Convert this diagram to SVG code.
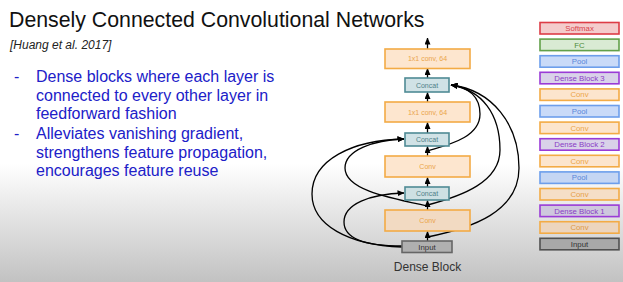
<svg xmlns="http://www.w3.org/2000/svg" width="623" height="282" viewBox="0 0 623 282">
<defs>
<linearGradient id="bg" x1="0" y1="0" x2="0" y2="1">
<stop offset="0" stop-color="#ffffff"/>
<stop offset="0.58" stop-color="#ffffff"/>
<stop offset="1" stop-color="#c2c2c2"/>
</linearGradient>
<marker id="ah" markerWidth="7" markerHeight="6" refX="6.5" refY="3" orient="auto" markerUnits="userSpaceOnUse">
<path d="M0,0 L7,3 L0,6 Z" fill="#000"/>
</marker>
<style>
.t{font-family:"Liberation Sans",Arial,sans-serif}
.b{font-family:"Liberation Sans",Arial,sans-serif;font-size:16px;fill:#2020c8}
.bx{stroke-width:1.6}
.or{fill:#fde6cf;stroke:#f3ab45}
.ort{fill:#eba54a;font-size:7px;text-anchor:middle}
.cc{fill:#d0e2e6;stroke:#4f8b95}
.cct{fill:#4f7f88;font-size:7px;text-anchor:middle}
.in{fill:#b0b0b0;stroke:#666}
.int{fill:#333;font-size:7.8px;text-anchor:middle}
.lt{font-size:7.8px;text-anchor:middle}
.sm{fill:#f4cccc;stroke:#dd3c46}
.fc{fill:#d9ead3;stroke:#62a04a}
.pl{fill:#c9daf8;stroke:#6d9eeb}
.db{fill:#d9d2e9;stroke:#9a3bd6}
.cv{fill:#fce5cd;stroke:#f3ab45}
.ar{fill:none;stroke:#000;stroke-width:1.3;marker-end:url(#ah)}
</style>
</defs>
<rect x="0" y="0" width="623" height="282" fill="url(#bg)"/>

<g id="title">
<text class="t" x="9" y="27" font-size="21.3" fill="#111">Densely Connected Convolutional Networks</text>
<text class="t" x="10" y="49" font-size="12" font-style="italic" fill="#222">[Huang et al. 2017]</text>
</g>

<g id="bullets">
<text class="b" x="14" y="82">-</text>
<text class="b" x="36" y="82">Dense blocks where each layer is</text>
<text class="b" x="36" y="101">connected to every other layer in</text>
<text class="b" x="36" y="119">feedforward fashion</text>
<text class="b" x="14" y="139">-</text>
<text class="b" x="36" y="139">Alleviates vanishing gradient,</text>
<text class="b" x="36" y="158">strengthens feature propagation,</text>
<text class="b" x="36" y="176">encourages feature reuse</text>
</g>

<g id="connectors">
<line class="ar" x1="427.5" y1="241" x2="427.5" y2="231.5"/>
<line class="ar" x1="427.5" y1="210" x2="427.5" y2="200.5"/>
<line class="ar" x1="427.5" y1="187" x2="427.5" y2="177.5"/>
<line class="ar" x1="427.5" y1="156" x2="427.5" y2="146.5"/>
<line class="ar" x1="427.5" y1="133" x2="427.5" y2="122.5"/>
<line class="ar" x1="427.5" y1="102" x2="427.5" y2="92.5"/>
<line class="ar" x1="427.5" y1="78" x2="427.5" y2="68.5"/>
<line class="ar" x1="427.5" y1="49" x2="427.5" y2="38"/>
<path class="ar" d="M427.5,151 C447,145 480,138 480,114 C480,97 469,87 451,85"/>
<path class="ar" d="M427.5,205 C462,196 500,182 500,150 C500,114 482,90 451,85"/>
<path class="ar" d="M427.5,237 C472,228 519,212 519,168 C519,124 492,90 451,85"/>
<path class="ar" d="M402,246 C368,246 344,240 344,222 C344,204 370,194 404,193"/>
<path class="ar" d="M402,247 C348,245 312,225 312,194 C312,160 352,140 404,139"/>
<path class="ar" d="M427.5,206 C390,198 345,190 345,168 C345,150 374,140 404,139"/>
</g>

<g id="dense-block">
<g id="db-input"><rect class="bx in" x="402" y="241" width="50" height="11.5" fill="#a9a9a9"/><text class="t int" x="427" y="249.5">Input</text></g>
<g id="db-conv1"><rect class="bx or" x="385" y="210" width="85" height="21" style="fill:#f2dac2"/><text class="t ort" x="427.5" y="223">Conv</text></g>
<g id="db-concat1"><rect class="bx cc" x="405" y="187" width="44" height="13" style="fill:#cde0e3"/><text class="t cct" x="427" y="196">Concat</text></g>
<g id="db-conv2"><rect class="bx or" x="385" y="156" width="85" height="21"/><text class="t ort" x="427.5" y="169">Conv</text></g>
<g id="db-concat2"><rect class="bx cc" x="405" y="133" width="44" height="13"/><text class="t cct" x="427" y="142">Concat</text></g>
<g id="db-1x1a"><rect class="bx or" x="385" y="102" width="85" height="20"/><text class="t ort" x="427.5" y="114.5">1x1 conv, 64</text></g>
<g id="db-concat3"><rect class="bx cc" x="405" y="78" width="44" height="14"/><text class="t cct" x="427" y="87.5">Concat</text></g>
<g id="db-1x1b"><rect class="bx or" x="385" y="49" width="85" height="19.5"/><text class="t ort" x="427.5" y="61">1x1 conv, 64</text></g>
<text class="t" x="427.5" y="271" font-size="12" text-anchor="middle" fill="#333">Dense Block</text>
</g>

<g id="arch">
<g id="a-softmax"><rect class="bx sm" x="540" y="22.5" width="79" height="11.5"/><text class="t lt" x="579.5" y="31" fill="#d8434b">Softmax</text></g>
<g id="a-fc"><rect class="bx fc" x="540" y="39.1" width="79" height="11.5"/><text class="t lt" x="579.5" y="47.6" fill="#4e8c3b">FC</text></g>
<g id="a-pool3"><rect class="bx pl" x="540" y="55.7" width="79" height="11.5"/><text class="t lt" x="579.5" y="64.2" fill="#5a87d8">Pool</text></g>
<g id="a-db3"><rect class="bx db" x="540" y="72.3" width="79" height="11.5"/><text class="t lt" x="579.5" y="80.8" fill="#8a3cc6">Dense Block 3</text></g>
<g id="a-conv5"><rect class="bx cv" x="540" y="88.9" width="79" height="11.5"/><text class="t lt" x="579.5" y="97.4" fill="#eca548">Conv</text></g>
<g id="a-pool2"><rect class="bx pl" x="540" y="105.5" width="79" height="11.5"/><text class="t lt" x="579.5" y="114" fill="#5a87d8">Pool</text></g>
<g id="a-conv4"><rect class="bx cv" x="540" y="122.1" width="79" height="11.5"/><text class="t lt" x="579.5" y="130.6" fill="#eca548">Conv</text></g>
<g id="a-db2"><rect class="bx db" x="540" y="138.7" width="79" height="11.5"/><text class="t lt" x="579.5" y="147.2" fill="#8a3cc6">Dense Block 2</text></g>
<g id="a-conv3"><rect class="bx cv" x="540" y="155.3" width="79" height="11.5"/><text class="t lt" x="579.5" y="163.8" fill="#eca548">Conv</text></g>
<g id="a-pool1"><rect class="bx pl" x="540" y="171.9" width="79" height="11.5" style="fill:#c5d6f3"/><text class="t lt" x="579.5" y="180.4" fill="#5a87d8">Pool</text></g>
<g id="a-conv2"><rect class="bx cv" x="540" y="188.5" width="79" height="11.5" style="fill:#f5dec6"/><text class="t lt" x="579.5" y="197" fill="#e6a048">Conv</text></g>
<g id="a-db1"><rect class="bx db" x="540" y="205.1" width="79" height="11.5" style="fill:#cec8dd"/><text class="t lt" x="579.5" y="213.6" fill="#8a3cc6">Dense Block 1</text></g>
<g id="a-conv1"><rect class="bx cv" x="540" y="221.7" width="79" height="11.5" style="fill:#ecd5be"/><text class="t lt" x="579.5" y="230.2" fill="#df9a45">Conv</text></g>
<g id="a-input"><rect class="bx" x="540" y="238.3" width="79" height="11.5" fill="#a8a8a8" stroke="#505050"/><text class="t lt" x="579.5" y="246.8" fill="#333">Input</text></g>
</g>
</svg>
